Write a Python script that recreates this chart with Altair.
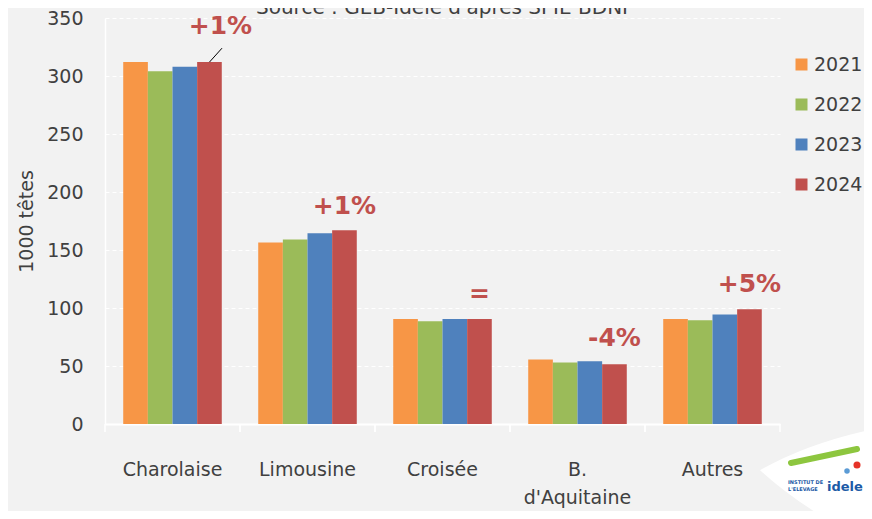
import altair as alt
import pandas as pd

categories = ["Charolaise", "Limousine", "Croisée", "B. d'Aquitaine", "Autres"]
years = ["2021", "2022", "2023", "2024"]
v2021 = [312, 156.5, 90.5, 55.5, 90.5]
v2022 = [304, 159, 88.5, 53, 89.5]
v2023 = [308, 164.5, 90.5, 54, 94.5]
v2024 = [312, 167, 90.5, 51.5, 99]
changes = ["+1%", "+1%", "=", "-4%", "+5%"]
label_y = [343, 188, 112, 74, 121]
colors = ["#f79646", "#9bbb59", "#4f81bd", "#c0504d"]
source_text = "Source : GEB-Idele d'après SPIE BDNI"

FONT = "DejaVu Sans"
TXT = "#404040"
RED = "#c0504d"
W = 675
H = 406
PAD_INNER = 0.27
GAP_HALF = PAD_INNER * (W / len(categories)) / 2   # px from band edge to step boundary

rows = []
for yr, vals in zip(years, [v2021, v2022, v2023, v2024]):
    for c, v in zip(categories, vals):
        rows.append({"category": c, "year": yr, "value": v})
df = pd.DataFrame(rows)

lab_df = pd.DataFrame({"category": categories, "year": ["2024"] * 5,
                       "value": label_y, "label": changes})
lead_df = pd.DataFrame({"category": [categories[0]], "year": ["2024"],
                        "value": [v2024[0]], "value2": [v2024[0] + 12]})
cat_df = pd.DataFrame({"category": categories})
one = pd.DataFrame({"a": [0]})

x_scale = alt.Scale(paddingInner=PAD_INNER, paddingOuter=PAD_INNER / 2)
x_axis = alt.Axis(title=None, labelExpr="split(datum.label, ' ')",
                  labelFont=FONT, labelFontSize=19, labelColor=TXT,
                  labelPadding=36, labelLineHeight=28, labelAngle=0,
                  ticks=False, tickSize=0, domain=True, domainColor="white",
                  domainWidth=2, grid=False)
y_axis = alt.Axis(title="1000 têtes", values=[0, 50, 100, 150, 200, 250, 300, 350],
                  grid=True, gridColor="white", gridDash=[4, 3], gridWidth=1,
                  domain=True, domainColor="white", domainWidth=1.5,
                  ticks=False, tickSize=0, labelPadding=22,
                  labelFont=FONT, labelFontSize=19, labelColor=TXT,
                  titleFont=FONT, titleFontSize=19, titleColor=TXT,
                  titleFontWeight="normal", titlePadding=10)
y_enc = alt.Y("value:Q", scale=alt.Scale(domain=[0, 350], nice=False), axis=y_axis)


def x_enc(**kw):
    return alt.X("category:N", sort=categories, scale=x_scale, axis=x_axis, **kw)


off_enc = alt.XOffset("year:N", sort=years,
                      scale=alt.Scale(paddingInner=0, paddingOuter=0))

bars = alt.Chart(df).mark_bar().encode(
    x=x_enc(),
    xOffset=off_enc,
    y=y_enc,
    color=alt.Color("year:N", sort=years,
                    scale=alt.Scale(domain=years, range=colors),
                    legend=alt.Legend(title=None, orient="none", legendX=687, legendY=37,
                                      symbolType="square", symbolSize=144,
                                      symbolStrokeWidth=0, labelFont=FONT,
                                      labelFontSize=19, labelColor=TXT,
                                      rowPadding=20, labelOffset=3, padding=0)),
)

# category separator ticks below the axis line (step boundaries)
ticks_left = alt.Chart(cat_df).mark_rule(color="white", strokeWidth=1.5,
                                         xOffset=-GAP_HALF).encode(
    x=x_enc(bandPosition=0),
    y=alt.value(H), y2=alt.value(H + 8),
)
ticks_right = alt.Chart(cat_df).mark_rule(color="white", strokeWidth=1.5,
                                          xOffset=GAP_HALF).encode(
    x=x_enc(bandPosition=1),
    y=alt.value(H), y2=alt.value(H + 8),
)

lab_common = dict(font=FONT, fontWeight="bold", fontSize=25, color=RED, baseline="middle")
labels = alt.Chart(lab_df).transform_filter(
    alt.datum.category != categories[0]
).mark_text(**lab_common).encode(
    x=x_enc(), xOffset=off_enc, y=y_enc, text="label:N",
)
label_first = alt.Chart(lab_df).transform_filter(
    alt.datum.category == categories[0]
).mark_text(dx=11, **lab_common).encode(
    x=x_enc(), xOffset=off_enc, y=y_enc, text="label:N",
)

leader = alt.Chart(lead_df).mark_rule(color="black", strokeWidth=1).encode(
    x=x_enc(), xOffset=off_enc,
    x2=alt.value(117),
    y=y_enc,
    y2="value2:Q",
)

source = alt.Chart(one).mark_text(font=FONT, fontSize=20, color=TXT,
                                  baseline="alphabetic", align="center").encode(
    x=alt.value(337), y=alt.value(-4), text=alt.value(source_text))

logo_bg = alt.Chart(one).mark_point(
    shape="M -1 -0.14 Q -0.2 -0.6 1 -0.8 L 1 1 L 0.8 1 Q -0.3 0.5 -1 -0.14 Z",
    filled=True, color="white", opacity=1, size=19600, strokeWidth=0).encode(
    x=alt.value(725), y=alt.value(462))
logo_swoosh = alt.Chart(one).mark_rule(color="#8dc63f", strokeWidth=6,
                                       strokeCap="round").encode(
    x=alt.value(686), x2=alt.value(752), y=alt.value(445), y2=alt.value(431))
logo_drop = alt.Chart(one).mark_point(filled=True, color="#e63329", size=50,
                                      shape="circle", opacity=1).encode(
    x=alt.value(752), y=alt.value(447))
logo_drop2 = alt.Chart(one).mark_point(filled=True, color="#5b9bd5", size=30,
                                       shape="circle", opacity=1).encode(
    x=alt.value(742), y=alt.value(453))
logo_name = alt.Chart(one).mark_text(font=FONT, fontWeight="bold", fontSize=13,
                                     color="#1c5aa6", align="left",
                                     baseline="alphabetic").encode(
    x=alt.value(722), y=alt.value(473), text=alt.value("idele"))
logo_inst = alt.Chart(one).mark_text(font=FONT, fontWeight="bold", fontSize=5,
                                     color="#1c5aa6", align="left",
                                     baseline="alphabetic", lineBreak="\n",
                                     lineHeight=6.5).encode(
    x=alt.value(683), y=alt.value(466),
    text=alt.value("INSTITUT DE\nL'ELEVAGE"))

chart = alt.layer(
    bars, ticks_left, ticks_right, labels, label_first, leader, source,
    logo_bg, logo_swoosh, logo_drop, logo_drop2, logo_name, logo_inst,
).properties(
    width=W, height=H,
    padding={"left": 97, "top": 10, "right": 84, "bottom": 87},
    autosize=alt.AutoSizeParams(type="none"),
    background="#f2f2f2",
).configure_view(stroke=None)

chart.save("out.html", embed_options={"renderer": "svg", "actions": False})
